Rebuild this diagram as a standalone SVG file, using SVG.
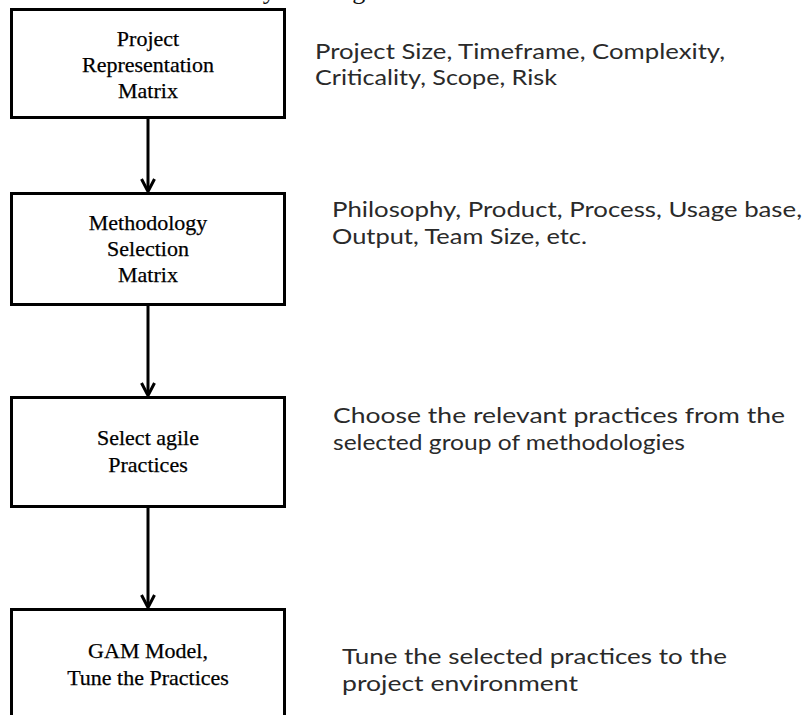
<svg xmlns="http://www.w3.org/2000/svg" width="807" height="715" viewBox="0 0 807 715">
<style>
.box{fill:#fff;stroke:#000;stroke-width:3}
.bt{font-family:"Liberation Serif","Times New Roman",serif;font-size:22px;fill:#000;stroke:#000;stroke-width:0.25;text-anchor:middle}
.rt{font-family:Lato,"Liberation Sans",sans-serif;font-size:22px;fill:#2a2a2a}
.top{font-family:"Liberation Serif","Times New Roman",serif;font-size:26px;fill:#111;text-anchor:end}
.conn{stroke:#000;stroke-width:3;fill:none}
</style>
<rect width="807" height="715" fill="#fff"/>
<text class="top" x="555" y="-1">process can be illustrated by the diagram shown below.</text>
<g id="connectors">
<line class="conn" x1="148" y1="118" x2="148" y2="191"/>
<polyline class="conn" points="141.5,179 148,191.5 154.5,179"/>
<line class="conn" x1="148" y1="305" x2="148" y2="395"/>
<polyline class="conn" points="141.5,383 148,395.5 154.5,383"/>
<line class="conn" x1="148" y1="507" x2="148" y2="607"/>
<polyline class="conn" points="141.5,595 148,607.5 154.5,595"/>
</g>
<g id="node1">
<rect class="box" x="11.5" y="9.5" width="273" height="108"/>
<text class="bt" x="148" y="46">Project</text>
<text class="bt" x="148" y="72">Representation</text>
<text class="bt" x="148" y="98">Matrix</text>
</g>
<g id="node2">
<rect class="box" x="11.5" y="193.5" width="273" height="111"/>
<text class="bt" x="148" y="230">Methodology</text>
<text class="bt" x="148" y="256">Selection</text>
<text class="bt" x="148" y="282">Matrix</text>
</g>
<g id="node3">
<rect class="box" x="11.5" y="397.5" width="273" height="109"/>
<text class="bt" x="148" y="445">Select agile</text>
<text class="bt" x="148" y="472">Practices</text>
</g>
<g id="node4">
<rect class="box" x="11.5" y="609.5" width="273" height="130"/>
<text class="bt" x="148" y="658">GAM Model,</text>
<text class="bt" x="148" y="685">Tune the Practices</text>
</g>
<g id="labels">
<text class="rt" x="315" y="59" textLength="410" lengthAdjust="spacingAndGlyphs">Project Size, Timeframe, Complexity,</text>
<text class="rt" x="315" y="85" textLength="242" lengthAdjust="spacingAndGlyphs">Criticality, Scope, Risk</text>
<text class="rt" x="332" y="217" textLength="470" lengthAdjust="spacingAndGlyphs">Philosophy, Product, Process, Usage base,</text>
<text class="rt" x="332" y="244" textLength="255" lengthAdjust="spacingAndGlyphs">Output, Team Size, etc.</text>
<text class="rt" x="333" y="423" textLength="452" lengthAdjust="spacingAndGlyphs">Choose the relevant practices from the</text>
<text class="rt" x="333" y="450" textLength="352" lengthAdjust="spacingAndGlyphs">selected group of methodologies</text>
<text class="rt" x="342" y="664" textLength="385" lengthAdjust="spacingAndGlyphs">Tune the selected practices to the</text>
<text class="rt" x="342" y="691" textLength="236" lengthAdjust="spacingAndGlyphs">project environment</text>
</g>
</svg>
